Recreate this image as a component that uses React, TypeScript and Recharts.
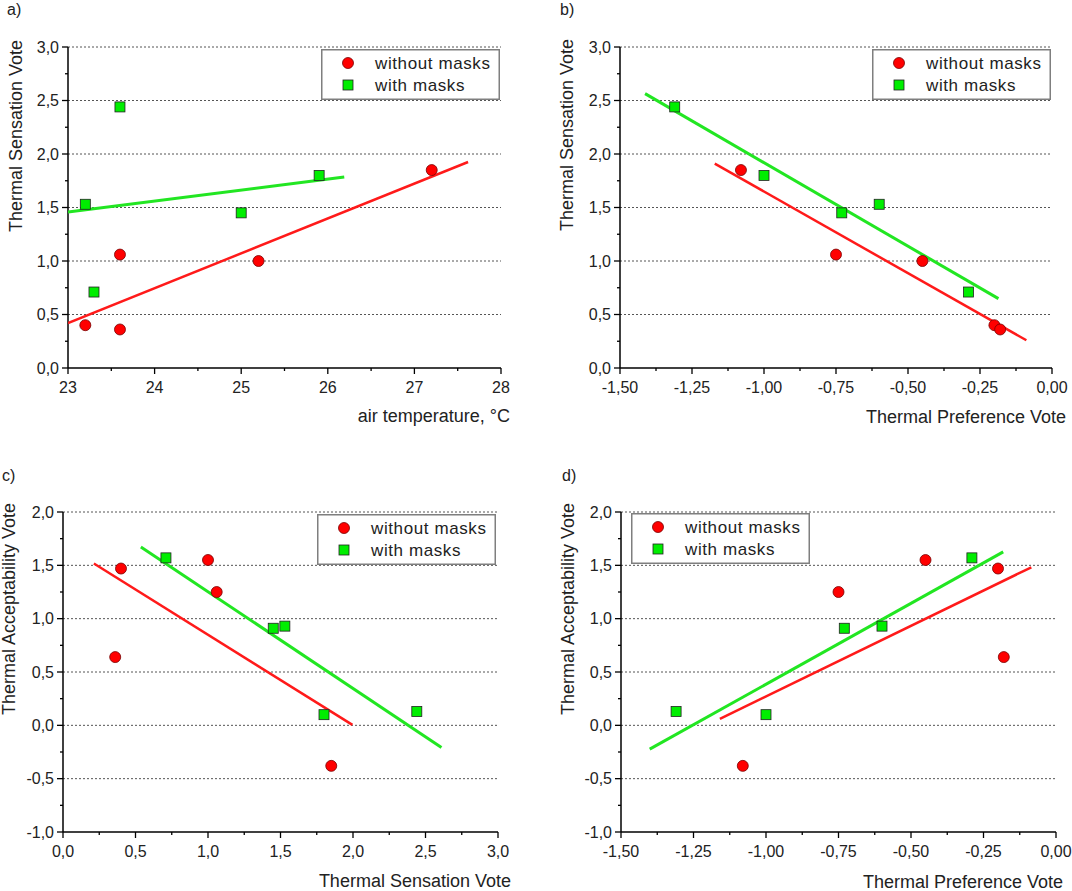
import { ScatterChart, Scatter, XAxis, YAxis, ReferenceLine, Legend } from 'recharts'

// session means, without masks
const taNoMask = [23.2, 23.6, 23.6, 25.2, 27.2]
const tsvNoMask = [0.4, 0.36, 1.06, 1.0, 1.85]
const tpvNoMask = [-0.2, -0.18, -0.75, -0.45, -1.08]
const tavNoMask = [1.47, 0.64, 1.25, 1.55, -0.38]

// session means, with masks
const taMask = [23.2, 23.3, 23.6, 25.0, 25.9]
const tsvMask = [1.53, 0.71, 2.44, 1.45, 1.8]
const tpvMask = [-0.6, -0.29, -1.31, -0.73, -1.0]
const tavMask = [0.93, 1.57, 0.13, 0.91, 0.1]

// fitted line end points [x0, x1], [y0, y1]
const fitA = { noMaskX: [23.0, 27.62], noMaskY: [0.42, 1.925], maskX: [23.0, 26.19], maskY: [1.458, 1.785] }
const fitB = { noMaskX: [-1.171, -0.089], noMaskY: [1.91, 0.259], maskX: [-1.413, -0.186], maskY: [2.564, 0.648] }
const fitC = { noMaskX: [0.213, 1.996], noMaskY: [1.517, 0.004], maskX: [0.537, 2.61], maskY: [1.673, -0.208] }
const fitD = { noMaskX: [-1.159, -0.085], noMaskY: [0.06, 1.482], maskX: [-1.401, -0.182], maskY: [-0.223, 1.626] }

// tick labels
const tempTicks = [23, 24, 25, 26, 27, 28]
const tpvTicks = [-1.5, -1.25, -1.0, -0.75, -0.5, -0.25, 0]
const tsvTicks = [0, 0.5, 1.0, 1.5, 2.0, 2.5, 3.0]
const tsvYTicks = [0, 0.5, 1.0, 1.5, 2.0, 2.5, 3.0]
const tavYTicks = [-1.0, -0.5, 0, 0.5, 1.0, 1.5, 2.0]

const legendLabels = ['without masks', 'with masks']

const FONT = '"Liberation Sans", Arial, Helvetica, sans-serif'
const RED = '#ff0000'
const GREEN = '#00ee00'
const LINE_RED = '#ff1a1a'
const LINE_GREEN = '#22e622'

const zip = (xs: number[], ys: number[]) => xs.map((x, i) => ({ x, y: ys[i] }))
const withMinors = (majors: number[]) => {
  const out: number[] = []
  majors.forEach((m, i) => {
    out.push(m)
    if (i < majors.length - 1) out.push((m + majors[i + 1]) / 2)
  })
  return out
}
const fmt = (v: number, d: number) => (Math.abs(v) < 1e-9 ? 0 : v).toFixed(d).replace('.', ',')
const isMajor = (majors: number[], v: number) => majors.some((m) => Math.abs(m - v) < 1e-6)

type Box = { x: number; y: number; w: number; h: number }
type Plot = { l: number; r: number; t: number; b: number }

type PanelProps = {
  box: Box
  plot: Plot
  letter: string
  letterPos: [number, number]
  xTitle: string
  xTitleEnd: [number, number]
  yTitle: string
  yTitleCenter: [number, number]
  xTicks: number[]
  xDigits: number
  yTicks: number[]
  grid: number[]
  noMask: { x: number; y: number }[]
  mask: { x: number; y: number }[]
  fit: { noMaskX: number[]; noMaskY: number[]; maskX: number[]; maskY: number[] }
  legendPos: [number, number]
}

function Panel(p: PanelProps) {
  const { box, plot } = p
  const xAxisH = 40
  const margin = { top: plot.t - box.y, right: box.x + box.w - plot.r, left: 0, bottom: box.y + box.h - plot.b - xAxisH }
  const yAxisW = plot.l - box.x
  const lx = (gx: number) => gx - box.x
  const ly = (gy: number) => gy - box.y

  const xTick = (t: any) => {
    const major = isMajor(p.xTicks, t.payload.value)
    return (
      <g>
        <line x1={t.x} x2={t.x} y1={t.y} y2={t.y + (major ? 6 : 3)} stroke="#000" strokeWidth={1.3} />
        {major && (
          <text x={t.x} y={t.y + 19} textAnchor="middle" dominantBaseline="central" fontSize={16} fill="#222" fontFamily={FONT}>
            {fmt(t.payload.value, p.xDigits)}
          </text>
        )}
      </g>
    )
  }
  const yTick = (t: any) => {
    const major = isMajor(p.yTicks, t.payload.value)
    return (
      <g>
        <line x1={t.x} x2={t.x - (major ? 6 : 3)} y1={t.y} y2={t.y} stroke="#000" strokeWidth={1.3} />
        {major && (
          <text x={t.x - 9} y={t.y} textAnchor="end" dominantBaseline="central" fontSize={16} fill="#222" fontFamily={FONT}>
            {fmt(t.payload.value, 1)}
          </text>
        )}
      </g>
    )
  }

  const legendContent = () => (
    <svg width={179} height={51} style={{ display: 'block' }}>
      <rect x={0.75} y={0.75} width={177.5} height={49.5} fill="#fff" stroke="#7f7f7f" strokeWidth={1.5} />
      <circle cx={27} cy={14} r={5.5} fill={RED} stroke="#700" strokeWidth={0.8} />
      <rect x={22} y={31} width={10} height={10} fill={GREEN} stroke="#222" strokeWidth={0.8} />
      <text x={54} y={14} dominantBaseline="central" fontSize={17} fill="#222" fontFamily={FONT} letterSpacing={0.6}>
        {legendLabels[0]}
      </text>
      <text x={54} y={36} dominantBaseline="central" fontSize={17} fill="#222" fontFamily={FONT} letterSpacing={0.6}>
        {legendLabels[1]}
      </text>
    </svg>
  )

  return (
    <div style={{ position: 'absolute', left: box.x, top: box.y, width: box.w, height: box.h }}>
      <div style={{ position: 'absolute', left: lx(p.letterPos[0]), top: ly(p.letterPos[1]) - 14, fontSize: 16, fontFamily: FONT, color: '#222' }}>
        {p.letter}
      </div>
      <ScatterChart width={box.w} height={box.h} margin={margin}>
        <XAxis
          type="number"
          dataKey="x"
          domain={[p.xTicks[0], p.xTicks[p.xTicks.length - 1]]}
          ticks={withMinors(p.xTicks)}
          interval={0}
          height={xAxisH}
          tickSize={0}
          tickMargin={0}
          tickLine={false}
          axisLine={{ stroke: '#000', strokeWidth: 1.5 }}
          tick={xTick}
          allowDataOverflow
          label={{
            content: () => (
              <text x={lx(p.xTitleEnd[0])} y={ly(p.xTitleEnd[1])} textAnchor="end" dominantBaseline="central" fontSize={18} fill="#222" fontFamily={FONT}>
                {p.xTitle}
              </text>
            ),
          }}
        />
        <YAxis
          type="number"
          dataKey="y"
          domain={[p.yTicks[0], p.yTicks[p.yTicks.length - 1]]}
          ticks={withMinors(p.yTicks)}
          interval={0}
          width={yAxisW}
          tickSize={0}
          tickMargin={0}
          tickLine={false}
          axisLine={{ stroke: '#000', strokeWidth: 1.5 }}
          tick={yTick}
          allowDataOverflow
          label={{
            content: () => (
              <text
                x={lx(p.yTitleCenter[0])}
                y={ly(p.yTitleCenter[1])}
                textAnchor="middle"
                dominantBaseline="central"
                fontSize={18}
                fill="#222"
                fontFamily={FONT}
                transform={`rotate(-90 ${lx(p.yTitleCenter[0])} ${ly(p.yTitleCenter[1])})`}
              >
                {p.yTitle}
              </text>
            ),
          }}
        />
        {p.grid.map((g) => (
          <ReferenceLine key={g} y={g} stroke="#555" strokeDasharray="2 2" strokeWidth={1} />
        ))}
        <Scatter
          name="fit without masks"
          data={zip(p.fit.noMaskX, p.fit.noMaskY)}
          line={{ stroke: LINE_RED, strokeWidth: 2.5 }}
          shape={() => <g />}
          legendType="none"
          isAnimationActive={false}
        />
        <Scatter
          name="fit with masks"
          data={zip(p.fit.maskX, p.fit.maskY)}
          line={{ stroke: LINE_GREEN, strokeWidth: 3 }}
          shape={() => <g />}
          legendType="none"
          isAnimationActive={false}
        />
        <Scatter
          name="without masks"
          data={p.noMask}
          fill={RED}
          shape={(s: any) => <circle cx={s.cx} cy={s.cy} r={5.5} fill={RED} stroke="#700" strokeWidth={0.8} />}
          isAnimationActive={false}
        />
        <Scatter
          name="with masks"
          data={p.mask}
          fill={GREEN}
          shape={(s: any) => <rect x={s.cx - 5} y={s.cy - 5} width={10} height={10} fill={GREEN} stroke="#222" strokeWidth={0.8} />}
          isAnimationActive={false}
        />
        <Legend
          layout="vertical"
          align="center"
          verticalAlign="middle"
          content={legendContent}
          wrapperStyle={{ left: lx(p.legendPos[0]), top: ly(p.legendPos[1]), width: 179, height: 51 }}
        />
      </ScatterChart>
    </div>
  )
}

export default function App() {
  return (
    <div style={{ position: 'relative', width: 1072, height: 891, background: '#fff', overflow: 'hidden' }}>
      <style>{'body{margin:0}'}</style>
      <Panel
        box={{ x: 0, y: 0, w: 536, h: 445 }}
        plot={{ l: 68, r: 501, t: 47, b: 368 }}
        letter="a)"
        letterPos={[7, 15]}
        xTitle="air temperature, °C"
        xTitleEnd={[510, 416]}
        yTitle="Thermal Sensation Vote"
        yTitleCenter={[15.5, 136]}
        xTicks={tempTicks}
        xDigits={0}
        yTicks={tsvYTicks}
        grid={[0.5, 1.0, 1.5, 2.0, 2.5, 3.0]}
        noMask={zip(taNoMask, tsvNoMask)}
        mask={zip(taMask, tsvMask)}
        fit={fitA}
        legendPos={[321, 49]}
      />
      <Panel
        box={{ x: 536, y: 0, w: 536, h: 445 }}
        plot={{ l: 620, r: 1052, t: 47, b: 368 }}
        letter="b)"
        letterPos={[560, 15]}
        xTitle="Thermal Preference Vote"
        xTitleEnd={[1066, 417]}
        yTitle="Thermal Sensation Vote"
        yTitleCenter={[567, 135]}
        xTicks={tpvTicks}
        xDigits={2}
        yTicks={tsvYTicks}
        grid={[0.5, 1.0, 1.5, 2.0, 2.5, 3.0]}
        noMask={zip(tpvNoMask, tsvNoMask)}
        mask={zip(tpvMask, tsvMask)}
        fit={fitB}
        legendPos={[872, 49]}
      />
      <Panel
        box={{ x: 0, y: 445, w: 536, h: 446 }}
        plot={{ l: 63, r: 498, t: 512, b: 832 }}
        letter="c)"
        letterPos={[2, 481]}
        xTitle="Thermal Sensation Vote"
        xTitleEnd={[511, 881]}
        yTitle="Thermal Acceptability Vote"
        yTitleCenter={[9, 609]}
        xTicks={tsvTicks}
        xDigits={1}
        yTicks={tavYTicks}
        grid={[-0.5, 0, 0.5, 1.0, 1.5, 2.0]}
        noMask={zip(tsvNoMask, tavNoMask)}
        mask={zip(tsvMask, tavMask)}
        fit={fitC}
        legendPos={[317, 514]}
      />
      <Panel
        box={{ x: 536, y: 445, w: 536, h: 446 }}
        plot={{ l: 621, r: 1056, t: 512, b: 832 }}
        letter="d)"
        letterPos={[562, 481]}
        xTitle="Thermal Preference Vote"
        xTitleEnd={[1063, 882]}
        yTitle="Thermal Acceptability Vote"
        yTitleCenter={[568, 609]}
        xTicks={tpvTicks}
        xDigits={2}
        yTicks={tavYTicks}
        grid={[-0.5, 0, 0.5, 1.0, 1.5, 2.0]}
        noMask={zip(tpvNoMask, tavNoMask)}
        mask={zip(tpvMask, tavMask)}
        fit={fitD}
        legendPos={[631, 513]}
      />
    </div>
  )
}
